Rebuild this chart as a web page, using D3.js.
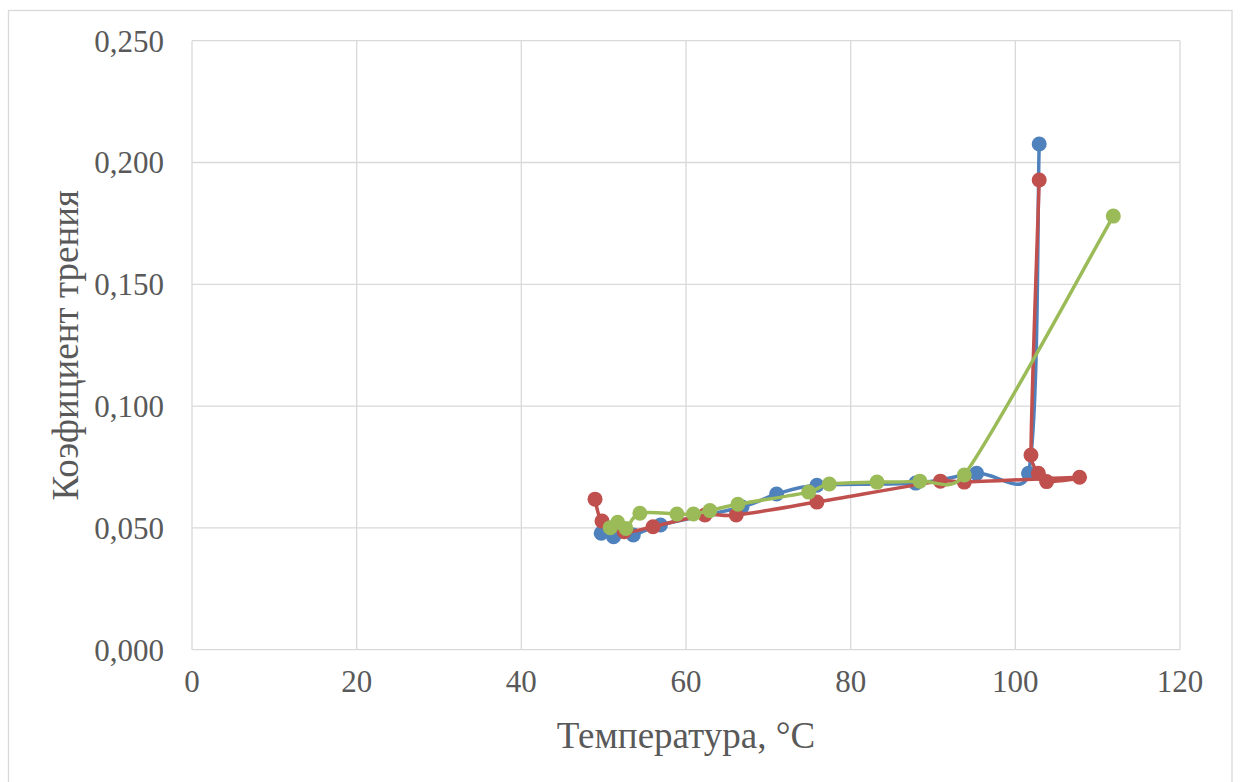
<!DOCTYPE html>
<html lang="ru">
<head>
<meta charset="UTF-8">
<title>Коэфициент трения</title>
<script src="https://d3js.org/d3.v7.min.js"></script>
<style>
    body, html { margin: 0; background: #fff; overflow: hidden; }
    svg text { fill: #595959; }
    .grid line { stroke: #d9d9d9; stroke-width: 1.3px; }
</style>
</head>
<body>
<script>
// axis ticks
const xTicks = [0, 20, 40, 60, 80, 100, 120];
const yTicks = [0, 0.05, 0.10, 0.15, 0.20, 0.25];

// series 1 (blue)
const tempA = [49.7, 51.2, 53.6, 56.9, 66.8, 71.0, 75.9, 87.9, 95.3, 101.6, 102.9];
const coefA = [0.0478, 0.0464, 0.0471, 0.0512, 0.0586, 0.0639, 0.0675, 0.0684, 0.0724, 0.0724, 0.2076];

// series 2 (red)
const tempB = [48.95, 49.8, 52.5, 56.0, 62.3, 66.1, 75.9, 90.9, 93.8, 107.8, 103.8, 102.8, 101.9, 102.9];
const coefB = [0.0618, 0.0528, 0.0484, 0.0505, 0.0553, 0.0553, 0.0606, 0.0692, 0.0688, 0.0708, 0.0690, 0.0724, 0.0799, 0.1928];

// series 3 (green)
const tempC = [50.8, 51.7, 52.7, 54.4, 58.9, 60.9, 62.9, 66.3, 74.9, 77.4, 83.2, 88.4, 93.8, 111.9];
const coefC = [0.0501, 0.0523, 0.0498, 0.0560, 0.0557, 0.0557, 0.0571, 0.0597, 0.0647, 0.0680, 0.0688, 0.0692, 0.0717, 0.1780];

const colors = ["#4f81bd", "#c0504d", "#9bbb59"];

const W = 1240, H = 782;
const plot = { left: 192, right: 1180, top: 40.7, bottom: 649.7 };
const serif = "'Liberation Serif', 'Times New Roman', Times, 'Nimbus Roman', 'Noto Serif', 'DejaVu Serif', FreeSerif, serif";

const svg = d3.select("body").append("svg")
    .attr("width", W)
    .attr("height", H)
    .style("font-family", serif);

// chart border (bottom edge falls outside the picture)
svg.append("rect")
    .attr("x", 8.5).attr("y", 10.5)
    .attr("width", 1223.5).attr("height", H)
    .attr("fill", "#fff")
    .attr("stroke", "#d9d9d9")
    .attr("stroke-width", 1.3);

const x = d3.scaleLinear().domain([0, 120]).range([plot.left, plot.right]);
const y = d3.scaleLinear().domain([0, 0.25]).range([plot.bottom, plot.top]);

const grid = svg.append("g").attr("class", "grid");
grid.selectAll(".vx").data(xTicks).enter().append("line")
    .attr("x1", d => x(d)).attr("x2", d => x(d))
    .attr("y1", plot.top).attr("y2", plot.bottom);
grid.selectAll(".hy").data(yTicks).enter().append("line")
    .attr("x1", plot.left).attr("x2", plot.right)
    .attr("y1", d => y(d)).attr("y2", d => y(d));

// tick labels
const fmtY = v => d3.format(".3f")(v).replace(".", ",");

svg.append("g").selectAll("text").data(yTicks).enter().append("text")
    .attr("x", 164)
    .attr("y", d => y(d))
    .attr("dy", "0.35em")
    .attr("text-anchor", "end")
    .style("font-size", "31px")
    .text(fmtY);

svg.append("g").selectAll("text").data(xTicks).enter().append("text")
    .attr("x", d => x(d))
    .attr("y", 692)
    .attr("text-anchor", "middle")
    .style("font-size", "31px")
    .text(d => d);

// axis titles
svg.append("text")
    .attr("x", (plot.left + plot.right) / 2)
    .attr("y", 748)
    .attr("text-anchor", "middle")
    .style("font-size", "37px")
    .text("Температура, °C");

svg.append("text")
    .attr("transform", `translate(78,${(plot.top + plot.bottom) / 2}) rotate(-90)`)
    .attr("text-anchor", "middle")
    .style("font-size", "37px")
    .text("Коэфициент трения");

// smoothed line the way Excel draws it: Bezier pieces whose handles are
// 1/6 of the neighbour chord, capped at half of the segment length
function smoothPath(pts) {
    const p = d3.path();
    const dist = (a, b) => Math.hypot(a[0] - b[0], a[1] - b[1]);
    p.moveTo(pts[0][0], pts[0][1]);
    for (let i = 0; i < pts.length - 1; i++) {
        const p0 = pts[Math.max(i - 1, 0)];
        const p1 = pts[i];
        const p2 = pts[i + 1];
        const p3 = pts[Math.min(i + 2, pts.length - 1)];
        const d12 = dist(p1, p2);
        const d02 = dist(p0, p2);
        const d13 = dist(p1, p3);
        let f1 = 1 / 6, f2 = 1 / 6;
        if (d02 / 6 > d12 / 2) f1 = d12 / (2 * d02);
        if (d13 / 6 > d12 / 2) f2 = d12 / (2 * d13);
        const c1 = [p1[0] + f1 * (p2[0] - p0[0]), p1[1] + f1 * (p2[1] - p0[1])];
        const c2 = [p2[0] - f2 * (p3[0] - p1[0]), p2[1] - f2 * (p3[1] - p1[1])];
        p.bezierCurveTo(c1[0], c1[1], c2[0], c2[1], p2[0], p2[1]);
    }
    return p.toString();
}

// series
const series = [
    { t: tempA, c: coefA },
    { t: tempB, c: coefB },
    { t: tempC, c: coefC }
];

series.forEach((s, i) => {
    const pts = s.t.map((t, j) => [x(t), y(s.c[j])]);
    const g = svg.append("g");
    g.append("path")
        .attr("d", smoothPath(pts))
        .attr("fill", "none")
        .attr("stroke", colors[i])
        .attr("stroke-width", 3.5)
        .attr("stroke-linejoin", "round");
    g.selectAll("circle").data(s.t).enter().append("circle")
        .attr("cx", d => x(d))
        .attr("cy", (d, j) => y(s.c[j]))
        .attr("r", 7.5)
        .attr("fill", colors[i]);
});
</script>
</body>
</html>
